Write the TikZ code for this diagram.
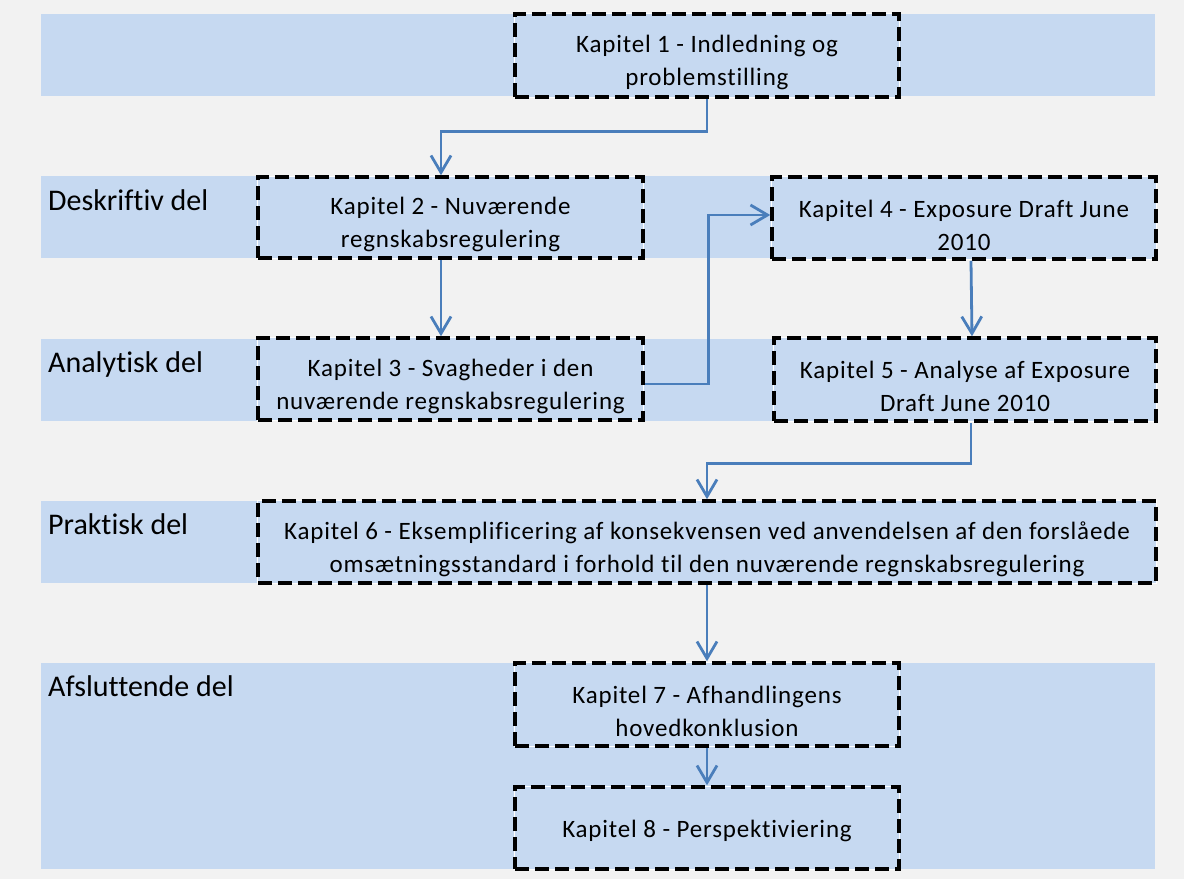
\documentclass[tikz,border=0pt]{standalone}
\usepackage{fontspec}
\setmainfont{Carlito}[Ligatures=NoCommon]
\usetikzlibrary{arrows.meta}
\definecolor{bandblue}{HTML}{C6D9F1}
\definecolor{pilblue}{HTML}{4A7EBB}
\definecolor{baggrund}{HTML}{F2F2F2}

\begin{document}
\begin{tikzpicture}[x=1pt,y=-1pt]
		\tikzset{band/.style={fill=bandblue}} % blue rows
		\tikzset{kapitel/.style={draw=black,line width=3.5pt,dash pattern=on 14pt off 6pt,fill=bandblue,inner sep=0pt,align=center,font=\fontsize{25}{33}\selectfont\addfontfeature{LetterSpace=3.3},execute at begin node={\rule{0pt}{#1pt}},preaction={draw=white,line width=1.5pt,solid}},kapitel/.default=65}
		\tikzset{del/.style={anchor=base west,inner sep=0pt,font=\fontsize{30}{36}\selectfont}}
		\tikzset{pil/.style={draw=pilblue,line width=2.8pt,-{Straight Barb[length=17pt,width=20pt]}}}
		\fill[baggrund] (0,0) rectangle (1184,879);
		\useasboundingbox (0,0) rectangle (1184,879);
		\fill[band] (41,14) rectangle (1155,96); % rows
		\fill[band] (41,176) rectangle (1155,258);
		\fill[band] (41,339) rectangle (1155,421);
		\fill[band] (41,501) rectangle (1155,583);
		\fill[band] (41,663) rectangle (1155,869);
		\node[del] (deskriptiv) at (48,210) {Deskriftiv del}; % row labels
		\node[del] (analytisk) at (48,372) {Analytisk del};
		\node[del] (praktisk) at (48,534) {Praktisk del};
		\node[del] (afsluttende) at (48,696) {Afsluttende del};
		\node[kapitel,minimum width=384pt,minimum height=83pt] (k1) at (707,55.5) {Kapitel 1 - Indledning og\\problemstilling};
		\node[kapitel,minimum width=385pt,minimum height=81pt] (k2) at (450.5,217.5) {Kapitel 2 - Nuværende\\regnskabsregulering};
		\node[kapitel,minimum width=385pt,minimum height=82pt] (k3) at (450.5,379) {Kapitel 3 - Svagheder i den\\nuværende regnskabsregulering};
		\node[kapitel,minimum width=384pt,minimum height=82pt] (k4) at (964,218) {Kapitel 4 - Exposure Draft June\\2010};
		\node[kapitel,minimum width=382pt,minimum height=83pt] (k5) at (965,379.5) {Kapitel 5 - Analyse af Exposure\\Draft June 2010};
		\node[kapitel,minimum width=898pt,minimum height=82pt] (k6) at (707,542) {Kapitel 6 - Eksemplificering af konsekvensen ved anvendelsen af den forslåede\\omsætningsstandard i forhold til den nuværende regnskabsregulering};
		\node[kapitel,minimum width=384pt,minimum height=83pt] (k7) at (707,704.5) {Kapitel 7 - Afhandlingens\\hovedkonklusion};
		\node[kapitel=24,minimum width=384pt,minimum height=82pt] (k8) at (707,828) {Kapitel 8 - Perspektiviering};
		\draw[pil] (k1.south) -- ++(0,33) -| ([xshift=-9.5pt]k2.north); % arrows
		\draw[pil] ([xshift=-9.5pt]k2.south) -- ([xshift=-9.5pt]k3.north);
		\draw[pil] ([yshift=-5pt]k3.east) -- ++(64,0) |- ([yshift=3pt]k4.west);
		\draw[pil] ([xshift=7pt]k4.south) -- ([xshift=7pt]k5.north);
		\draw[pil] ([xshift=6pt]k5.south) -- ++(0,41) -| (k6.north);
		\draw[pil] (k6.south) -- (k7.north);
		\draw[pil] (k7.south) -- (k8.north);
	\end{tikzpicture}
\end{document}
